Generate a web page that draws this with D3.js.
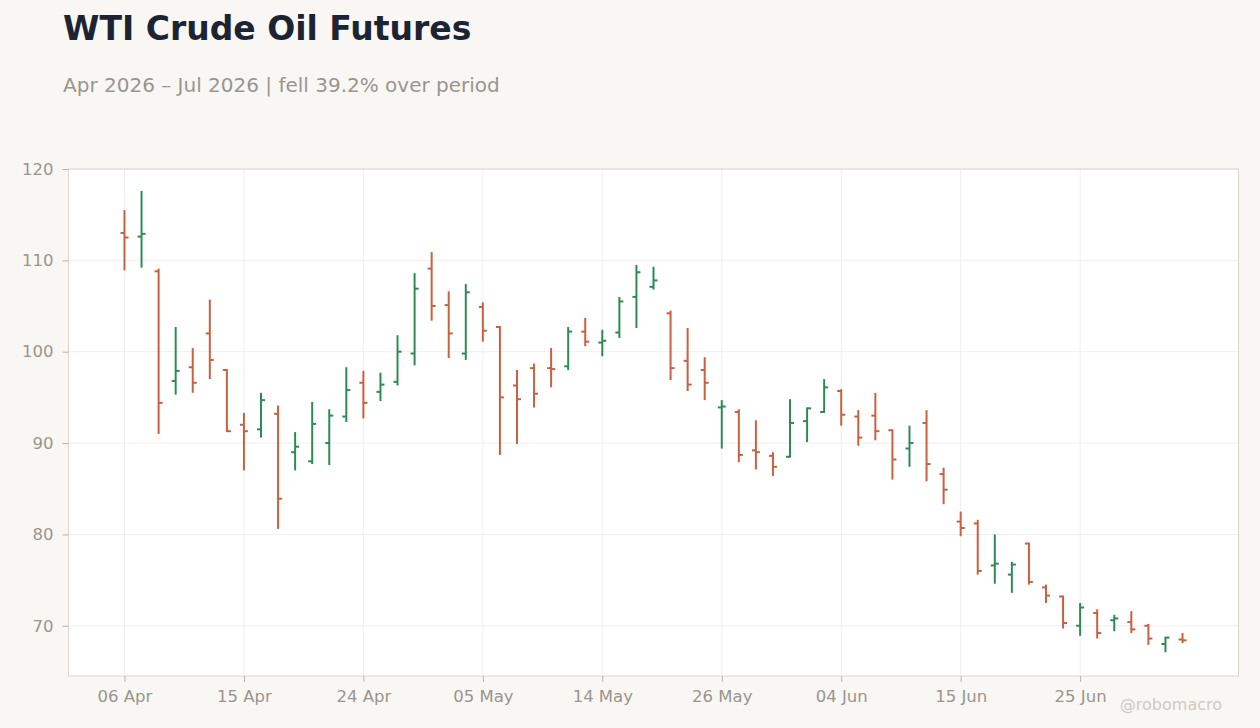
<!DOCTYPE html>
<html>
<head>
<meta charset="utf-8">
<script src="https://cdn.jsdelivr.net/npm/d3@7"></script>
<style>
  body { margin: 0; background: #f8f7f4; font-family: "DejaVu Sans", sans-serif; }
  .tick text { fill: #9a9590; font-size: 16.5px; font-family: "DejaVu Sans", sans-serif; }
  .tick line { stroke: #b9b3ab; }
</style>
</head>
<body>
<div class="ohlc_chart"></div>
<script>
// trading days, Apr - Jul 2026
var dates = ['2026-04-06','2026-04-07','2026-04-08','2026-04-09','2026-04-10','2026-04-13','2026-04-14','2026-04-15',
  '2026-04-16','2026-04-17','2026-04-20','2026-04-21','2026-04-22','2026-04-23','2026-04-24','2026-04-27',
  '2026-04-28','2026-04-29','2026-04-30','2026-05-01','2026-05-04','2026-05-05','2026-05-06','2026-05-07',
  '2026-05-08','2026-05-11','2026-05-12','2026-05-13','2026-05-14','2026-05-15','2026-05-18','2026-05-19',
  '2026-05-20','2026-05-21','2026-05-22','2026-05-26','2026-05-27','2026-05-28','2026-05-29','2026-06-01',
  '2026-06-02','2026-06-03','2026-06-04','2026-06-05','2026-06-08','2026-06-09','2026-06-10','2026-06-11',
  '2026-06-12','2026-06-15','2026-06-16','2026-06-17','2026-06-18','2026-06-22','2026-06-23','2026-06-24',
  '2026-06-25','2026-06-26','2026-06-29','2026-06-30','2026-07-01','2026-07-02','2026-07-06']

var open = [113.0,112.6,108.8,96.8,98.3,102.0,98.0,92.0,91.5,93.2,89.0,88.0,90.0,92.9,96.6,95.6,
  96.7,99.8,109.1,105.1,99.8,104.9,102.7,96.3,98.2,98.2,98.4,102.2,101.0,102.1,106.0,107.1,
  104.2,99.0,98.0,93.9,93.4,89.2,88.6,88.5,92.4,93.4,95.7,92.9,93.0,91.4,89.4,92.2,
  86.6,81.4,81.2,76.6,75.6,79.0,74.2,73.2,70.0,71.4,70.6,70.4,70.0,68.0,68.5]
var high = [115.5,117.6,109.1,102.7,100.4,105.7,98.1,93.3,95.5,94.1,91.2,94.5,93.7,98.3,97.9,97.7,
  101.8,108.6,110.9,106.6,107.4,105.4,102.8,98.0,98.7,100.4,102.7,103.7,102.4,106.0,109.5,109.3,
  104.5,102.6,99.4,94.7,93.7,92.5,89.0,94.8,93.9,97.0,95.9,93.6,95.5,91.5,91.9,93.6,
  87.3,82.5,81.6,80.0,77.0,79.1,74.5,73.3,72.5,71.8,71.2,71.6,70.2,68.8,69.2]
var low = [108.9,109.2,91.0,95.3,95.5,97.0,91.2,87.0,90.6,80.6,87.0,87.7,87.6,92.3,92.7,94.6,
  96.3,98.5,103.4,99.3,99.1,101.1,88.7,89.9,93.9,96.1,98.0,100.6,99.5,101.5,102.6,106.8,
  96.9,95.7,94.7,89.4,87.9,87.1,86.4,88.4,90.1,93.3,91.9,89.7,90.3,86.0,87.4,85.8,
  83.3,79.8,75.6,74.6,73.6,74.5,72.5,69.7,68.9,68.6,69.4,69.2,67.9,67.1,68.1]
var close = [112.5,112.9,94.4,97.9,96.6,99.1,91.3,91.3,94.7,83.9,89.6,92.1,93.0,95.8,94.4,96.4,
  100.0,106.9,105.0,102.0,106.5,102.3,95.0,94.8,95.4,98.1,102.2,101.1,101.2,105.5,108.7,107.8,
  98.2,96.4,96.6,94.0,88.7,89.0,87.4,92.2,93.8,96.1,93.1,90.6,91.3,88.2,90.0,87.7,
  84.9,80.7,76.0,76.8,76.7,74.8,73.3,70.3,72.0,69.2,70.8,69.6,68.6,68.7,68.4]

var yTicks = [70, 80, 90, 100, 110, 120]
var xTickIdx = [0, 7, 14, 21, 28, 35, 42, 49, 56]

var upColor = '#2e8b57'
var downColor = '#c9603f'

var W = 1260, H = 728
var margin = { top: 169, right: 21.5, bottom: 52, left: 68.5 }
var width = W - margin.left - margin.right,
    height = H - margin.top - margin.bottom

var datapoints = dates.map(function(d, i){
  return { date: d3.timeParse('%Y-%m-%d')(d), i: i, o: open[i], h: high[i], l: low[i], c: close[i] }
})

var svg = d3.select('.ohlc_chart').append('svg')
  .attr('width', W)
  .attr('height', H)

// titles
svg.append('text')
  .attr('x', 63).attr('y', 40)
  .style('font-size', '33px').style('font-weight', 'bold')
  .style('fill', '#1c2333')
  .text('WTI Crude Oil Futures')

var first = datapoints[0].c, last = datapoints[datapoints.length - 1].c
var chg = (last - first) / first * 100
svg.append('text')
  .attr('x', 63).attr('y', 92)
  .style('font-size', '20px')
  .style('fill', '#9a9590')
  .text('Apr 2026 \u2013 Jul 2026 | ' + (chg < 0 ? 'fell ' : 'rose ') + Math.abs(chg).toFixed(1) + '% over period')

var g = svg.append('g')
  .attr('transform', 'translate(' + margin.left + ',' + margin.top + ')')

var x = d3.scaleLinear().domain([-3.28, dates.length - 1 + 3.28]).range([0, width])
var y = d3.scaleLinear().domain([64.5, 120]).range([height, 0])

g.append('rect')
  .attr('width', width).attr('height', height)
  .style('fill', '#ffffff')

// grid
g.selectAll('.hgrid')
  .data(yTicks)
  .enter().append('line')
  .attr('class', 'hgrid')
  .attr('x1', 0).attr('x2', width)
  .attr('y1', d => y(d)).attr('y2', d => y(d))
  .style('stroke', '#efefef')

g.selectAll('.vgrid')
  .data(xTickIdx)
  .enter().append('line')
  .attr('class', 'vgrid')
  .attr('x1', d => x(d)).attr('x2', d => x(d))
  .attr('y1', 0).attr('y2', height)
  .style('stroke', '#efefef')

g.append('rect')
  .attr('width', width).attr('height', height)
  .style('fill', 'none')
  .style('stroke', '#dcd6ce')

// axes
var yAxis = d3.axisLeft(y).tickValues(yTicks).tickSize(6).tickPadding(9)
var xAxis = d3.axisBottom(x).tickValues(xTickIdx).tickSize(6).tickPadding(8)
  .tickFormat(function(d){ return d3.timeFormat('%d %b')(datapoints[d].date) })

g.append('g').call(yAxis).call(a => a.select('.domain').remove())
g.append('g').attr('transform', 'translate(0,' + height + ')')
  .call(xAxis).call(a => a.select('.domain').remove())

// ohlc bars
var bars = g.selectAll('.bar')
  .data(datapoints)
  .enter().append('g')
  .attr('class', 'bar')
  .style('stroke', d => d.c >= d.o ? upColor : downColor)
  .style('stroke-width', 2)

bars.append('line')
  .attr('x1', d => x(d.i)).attr('x2', d => x(d.i))
  .attr('y1', d => y(d.h)).attr('y2', d => y(d.l))

bars.append('line')
  .attr('x1', d => x(d.i) - 4).attr('x2', d => x(d.i))
  .attr('y1', d => y(d.o)).attr('y2', d => y(d.o))

bars.append('line')
  .attr('x1', d => x(d.i)).attr('x2', d => x(d.i) + 4)
  .attr('y1', d => y(d.c)).attr('y2', d => y(d.c))

svg.append('text')
  .attr('x', 1222).attr('y', 710)
  .attr('text-anchor', 'end')
  .style('font-size', '16px')
  .style('fill', '#cfcac4')
  .text('@robomacro')
</script>
</body>
</html>
